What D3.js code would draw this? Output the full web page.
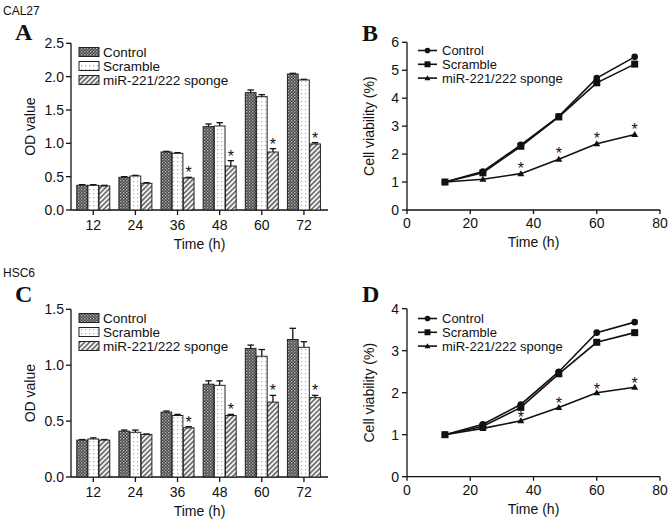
<!DOCTYPE html>
<html><head><meta charset="utf-8">
<script src="https://cdn.jsdelivr.net/npm/d3@7"></script>
<style>body{margin:0;background:#fff}svg{display:block}text{font-family:"Liberation Sans",Arial,sans-serif;fill:#111}</style>
</head><body><svg id="c" width="672" height="522"></svg>
<script>
const times = ["12","24","36","48","60","72"];
const timesNum = [12,24,36,48,60,72];
const seriesNames = ["Control","Scramble","miR-221/222 sponge"];
// Panel A (CAL27 OD)
const aControl = [0.37,0.49,0.87,1.25,1.76,2.04];
const aScramble = [0.37,0.51,0.85,1.26,1.70,1.95];
const aSponge = [0.36,0.40,0.48,0.66,0.87,0.99];
const aControlErr = [0.01,0.01,0.01,0.04,0.04,0.01];
const aScrambleErr = [0.01,0.01,0.01,0.05,0.03,0.01];
const aSpongeErr = [0.01,0.01,0.01,0.08,0.05,0.02];
// Panel C (HSC6 OD)
const cControl = [0.33,0.41,0.58,0.83,1.15,1.23];
const cScramble = [0.34,0.40,0.55,0.82,1.08,1.16];
const cSponge = [0.33,0.38,0.44,0.55,0.67,0.71];
const cControlErr = [0.005,0.01,0.01,0.03,0.03,0.10];
const cScrambleErr = [0.01,0.02,0.01,0.04,0.06,0.05];
const cSpongeErr = [0.005,0.005,0.01,0.01,0.06,0.02];
// Panel B (CAL27 viability)
const bControl = [1.0,1.38,2.33,3.35,4.72,5.48];
const bScramble = [1.0,1.33,2.28,3.33,4.55,5.22];
const bSponge = [1.0,1.10,1.30,1.82,2.37,2.70];
// Panel D (HSC6 viability)
const dControl = [1.0,1.25,1.72,2.50,3.43,3.68];
const dScramble = [1.0,1.20,1.65,2.45,3.20,3.43];
const dSponge = [1.0,1.15,1.33,1.65,2.00,2.13];
const starIdx = [2,3,4,5];
const aTicks = [0,0.5,1.0,1.5,2.0,2.5];
const cTicks = [0,0.5,1.0,1.5];
const bTicks = [0,1,2,3,4,5,6];
const dTicks = [0,1,2,3,4];
const lineXTicks = [0,20,40,60,80];

const svg = d3.select("#c");
const defs = svg.append("defs");
let p = defs.append("pattern").attr("id","pCtrl").attr("width",3).attr("height",3).attr("patternUnits","userSpaceOnUse");
p.append("rect").attr("width",3).attr("height",3).attr("fill","#444");
p.append("rect").attr("x",0).attr("y",0).attr("width",1.4).attr("height",1.4).attr("fill","#b5b5b5");
p.append("rect").attr("x",1.5).attr("y",1.5).attr("width",1.4).attr("height",1.4).attr("fill","#949494");
p = defs.append("pattern").attr("id","pScr").attr("width",4).attr("height",4).attr("patternUnits","userSpaceOnUse");
p.append("rect").attr("width",4).attr("height",4).attr("fill","#fff");
p.append("rect").attr("x",1).attr("y",1).attr("width",1.2).attr("height",1.2).attr("fill","#aaa");
p = defs.append("pattern").attr("id","pSp").attr("width",3.5).attr("height",3.5).attr("patternUnits","userSpaceOnUse").attr("patternTransform","rotate(45)");
p.append("rect").attr("width",3.5).attr("height",3.5).attr("fill","#f4f4f4");
p.append("rect").attr("x",0).attr("y",0).attr("width",1.6).attr("height",3.5).attr("fill","#666");
const fills = ["url(#pCtrl)","url(#pScr)","url(#pSp)"];

function txt(g,x,y,s,opts={}){
  const t=g.append("text").attr("x",x).attr("y",y).text(s)
   .attr("font-size",opts.size||14).attr("text-anchor",opts.anchor||"start");
  if(opts.family) t.style("font-family",opts.family);
  if(opts.weight) t.attr("font-weight",opts.weight);
  if(opts.rotate) t.attr("transform",`rotate(-90,${x},${y})`);
  return t;
}

function barPanel(cfg){
  const {left,right,top,bottom,ymax,ticks,vals,errs,letter,cell,lab,legTop} = cfg;
  const g = svg.append("g");
  const y = d3.scaleLinear().domain([0,ymax]).range([bottom,top]);
  const x0 = d3.scaleBand().domain(times).range([left+1.2,right-3]).padding(0);
  const x1 = d3.scaleBand().domain(seriesNames).range([0,33]).paddingInner(0.04);
  g.append("line").attr("x1",left).attr("x2",left).attr("y1",top).attr("y2",bottom).attr("stroke","#111").attr("stroke-width",1.3);
  ticks.forEach(t=>{
    g.append("line").attr("x1",left-5).attr("x2",left).attr("y1",y(t)).attr("y2",y(t)).attr("stroke","#111").attr("stroke-width",1.3);
    txt(g,left-7,y(t)+5,d3.format(".1f")(t),{anchor:"end"});
  });
  g.append("line").attr("x1",left).attr("x2",right).attr("y1",bottom).attr("y2",bottom).attr("stroke","#111").attr("stroke-width",1.3);
  times.forEach(t=>{
    const cx = x0(t)+x0.bandwidth()/2;
    g.append("line").attr("x1",cx).attr("x2",cx).attr("y1",bottom).attr("y2",bottom+5).attr("stroke","#111").attr("stroke-width",1.3);
    txt(g,cx,bottom+20,t,{anchor:"middle"});
  });
  txt(g,(left+right)/2,bottom+39,"Time (h)",{anchor:"middle"});
  txt(g,35,(top+bottom)/2,"OD value",{anchor:"middle",rotate:true});
  seriesNames.forEach((s,si)=>{
    times.forEach((t,i)=>{
      const bx = x0(t)+x0.bandwidth()/2-16.5+x1(s);
      const bw = x1.bandwidth();
      const v = vals[si][i], e = errs[si][i];
      g.append("line").attr("x1",bx+bw/2).attr("x2",bx+bw/2).attr("y1",y(v)).attr("y2",y(v+e)).attr("stroke","#111").attr("stroke-width",1.3);
      g.append("line").attr("x1",bx+bw*0.2).attr("x2",bx+bw*0.8).attr("y1",y(v+e)).attr("y2",y(v+e)).attr("stroke","#111").attr("stroke-width",1.3);
      g.append("rect").attr("x",bx).attr("y",y(v)).attr("width",bw).attr("height",bottom-y(v))
        .attr("fill",fills[si]).attr("stroke","#222").attr("stroke-width",1);
      if(si===2 && starIdx.includes(i)){
        txt(g,bx+bw/2,y(v+e)+1,"*",{anchor:"middle",size:16});
      }
    });
  });
  seriesNames.forEach((s,si)=>{
    const ly = legTop+si*14;
    g.append("rect").attr("x",79).attr("y",ly-4.5).attr("width",20).attr("height",9).attr("fill",fills[si]).attr("stroke","#222").attr("stroke-width",1);
    txt(g,103,ly+5,s,{size:13.5});
  });
  txt(g,3,cell,lab,{size:12});
  txt(g,15,cell+25,letter,{size:24,weight:"bold",family:"'Liberation Serif','Times New Roman',serif"});
}

function linePanel(cfg){
  const {left,right,top,bottom,ymax,ticks,vals,letter,legTop,legStep,starOff} = cfg;
  const g = svg.append("g");
  const x = d3.scaleLinear().domain([0,80]).range([left,right]);
  const y = d3.scaleLinear().domain([0,ymax]).range([bottom,top]);
  g.append("line").attr("x1",left).attr("x2",left).attr("y1",top).attr("y2",bottom).attr("stroke","#111").attr("stroke-width",1.3);
  ticks.forEach(t=>{
    g.append("line").attr("x1",left-5).attr("x2",left).attr("y1",y(t)).attr("y2",y(t)).attr("stroke","#111").attr("stroke-width",1.3);
    txt(g,left-8,y(t)+5,String(t),{anchor:"end"});
  });
  g.append("line").attr("x1",left).attr("x2",right).attr("y1",bottom).attr("y2",bottom).attr("stroke","#111").attr("stroke-width",1.3);
  lineXTicks.forEach(t=>{
    g.append("line").attr("x1",x(t)).attr("x2",x(t)).attr("y1",bottom).attr("y2",bottom+4).attr("stroke","#111").attr("stroke-width",1.3);
    txt(g,x(t),bottom+18,String(t),{anchor:"middle"});
  });
  txt(g,(left+right)/2,bottom+37,"Time (h)",{anchor:"middle"});
  txt(g,left-33,(top+bottom)/2,"Cell viability (%)",{anchor:"middle",rotate:true});
  const line = d3.line().x((d,i)=>x(timesNum[i])).y(d=>y(d));
  const markers = [
    (gg,cx,cy,s=1)=>gg.append("circle").attr("cx",cx).attr("cy",cy).attr("r",3.3*s).attr("fill","#111"),
    (gg,cx,cy,s=1)=>gg.append("rect").attr("x",cx-3.5*s).attr("y",cy-3.5*s).attr("width",7*s).attr("height",7*s).attr("fill","#111"),
    (gg,cx,cy,s=1)=>gg.append("path").attr("d",`M${cx},${cy-3.5*s}L${cx+3.5*s},${cy+2.5*s}L${cx-3.5*s},${cy+2.5*s}Z`).attr("fill","#111")
  ];
  vals.forEach((v,si)=>{
    g.append("path").attr("d",line(v)).attr("fill","none").attr("stroke","#111").attr("stroke-width",1.6);
    v.forEach((d,i)=>markers[si](g,x(timesNum[i]),y(d)));
  });
  starIdx.forEach(i=>{
    txt(g,x(timesNum[i]),y(vals[2][i])-starOff,"*",{anchor:"middle",size:16});
  });
  seriesNames.forEach((s,si)=>{
    const ly = legTop+si*legStep;
    g.append("line").attr("x1",418).attr("x2",437).attr("y1",ly).attr("y2",ly).attr("stroke","#111").attr("stroke-width",1.6);
    markers[si](g,427.5,ly,0.85);
    txt(g,442,ly+4.5,s,{size:13});
  });
  txt(g,362,cfg.letterY,letter,{size:24,weight:"bold",family:"'Liberation Serif','Times New Roman',serif"});
}

barPanel({left:71,right:328,top:43.3,bottom:210,ymax:2.5,ticks:aTicks,
  vals:[aControl,aScramble,aSponge],errs:[aControlErr,aScrambleErr,aSpongeErr],
  letter:"A",cell:15,lab:"CAL27",legTop:52});
barPanel({left:71,right:328,top:309.3,bottom:477,ymax:1.5,ticks:cTicks,
  vals:[cControl,cScramble,cSponge],errs:[cControlErr,cScrambleErr,cSpongeErr],
  letter:"C",cell:277,lab:"HSC6",legTop:318});
linePanel({left:407,right:660,top:42.3,bottom:210,ymax:6,ticks:bTicks,
  vals:[bControl,bScramble,bSponge],letter:"B",letterY:41,legTop:50.5,legStep:13.8,starOff:0});
linePanel({left:407,right:660,top:308.7,bottom:476.7,ymax:4,ticks:dTicks,
  vals:[dControl,dScramble,dSponge],letter:"D",letterY:302,legTop:318.5,legStep:13.8,starOff:-2});
</script></body></html>
